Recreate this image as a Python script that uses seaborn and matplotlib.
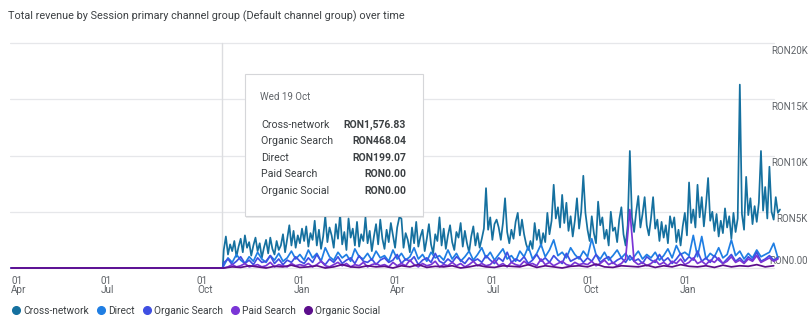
import matplotlib
matplotlib.use("Agg")
import matplotlib.pyplot as plt
import matplotlib.dates as mdates
from matplotlib.patches import FancyBboxPatch
from matplotlib.lines import Line2D
import seaborn as sns
import pandas as pd

# ---------------- data (values in thousands of RON) ----------------
channels = ["Cross-network", "Direct", "Organic Search", "Paid Search", "Organic Social"]
colors = ["#15709f", "#1f7ee3", "#3f4fe2", "#7a35d6", "#5c0e8c"]

range_start = "2022-04-01"
launch_date = "2022-10-19"
prelaunch_end = "2022-10-18"

# Cross-network, every 2 days from launch
cross_network_k = [
    1.6, 2.8, 1.2, 2.1, 1.5, 2.4, 1.0, 1.9, 2.6, 1.4, 2.9, 1.8, 2.3, 1.1, 2.0, 2.7, 1.5, 2.2, 0.9, 1.8,
    2.5, 1.3, 2.7, 1.7, 1.2, 2.4, 1.6, 2.0, 3.0, 1.4, 2.6, 3.8, 2.0, 3.3, 1.8, 2.9, 2.2, 3.5,
    2.4, 3.7, 1.9, 3.1, 2.5, 4.2, 2.0, 3.4, 1.7, 2.8, 4.6, 2.3, 3.6, 2.9, 1.8, 3.9, 2.6, 4.8, 2.1, 3.2,
    1.6, 4.4, 2.7, 3.5, 2.0, 4.1, 1.9, 3.0, 2.4, 4.5, 2.2, 3.3, 1.5, 2.8, 3.9, 2.1, 4.3, 2.6, 1.7, 3.4,
    2.3, 4.0, 2.9, 1.8, 3.6,
    4.5, 4.4, 1.8, 3.1, 2.5, 1.4, 3.6, 2.2, 4.1, 1.9, 2.8, 3.4, 1.5, 2.6, 3.9, 2.1, 1.3, 3.0, 2.4, 4.5,
    2.0, 3.5, 1.7, 2.9, 3.8, 2.3, 1.6, 3.2, 2.7, 4.0, 1.9, 3.3, 2.2, 1.4, 2.8, 3.7, 2.0, 3.1, 1.8, 2.6,
    3.5, 7.1, 3.4, 4.5, 2.5, 3.9,
    4.3, 3.6, 2.5, 4.0, 6.2, 3.2, 2.2, 3.4, 2.6, 4.1, 4.9, 2.9, 4.3, 3.0, 2.1, 1.6, 2.4, 1.7, 4.0, 2.5,
    3.4, 1.9, 3.1, 2.3, 4.9, 3.0, 4.2, 7.4, 4.4, 5.4, 3.6, 6.5, 4.0, 5.8, 3.3, 4.6, 2.8, 4.2, 6.2, 3.5,
    5.0, 8.2, 4.9, 3.4, 2.4, 4.6, 3.1, 2.2,
    5.9, 3.8, 4.5, 2.6, 3.4, 2.0, 5.0, 3.3, 3.6, 2.3, 4.3, 5.4, 3.0, 2.0, 3.8, 10.4, 4.5, 3.2, 5.0, 6.4,
    3.6, 4.8, 6.3, 3.8, 2.9, 4.4, 6.3, 3.5, 4.3, 2.4, 4.1, 2.7, 3.8, 2.2, 4.6, 3.6, 4.5, 2.3, 3.4, 2.0,
    3.7, 4.9, 2.9, 7.6, 4.0, 5.2, 3.6, 7.4, 4.5, 6.3, 3.7, 5.6, 8.0, 4.2, 5.0, 3.3, 4.8, 2.8, 4.2, 3.1,
    5.3, 3.6, 4.6, 2.6, 4.9, 3.2, 4.4, 16.3, 4.8, 3.4, 8.1, 4.7, 6.2, 3.9, 5.5, 4.1, 5.8, 10.4, 5.1, 7.2,
    4.4, 9.0, 5.0, 4.3, 6.3, 4.9, 5.2,
]

# Direct, every 4 days from launch
direct_k = [
    0.2, 0.9, 0.5, 1.2, 0.7, 0.4, 1.0, 0.6, 1.4, 0.8, 0.5, 1.1, 0.7, 1.3, 0.6, 0.9, 1.5, 0.8, 1.2,
    0.7, 1.6, 0.9, 1.3, 0.6, 1.8, 1.0, 0.7, 1.4, 0.9, 1.2, 0.6, 1.7, 1.0, 0.8, 1.3, 0.7, 1.5, 0.9,
    1.1, 0.6, 1.6, 0.8, 1.3, 0.7, 1.0, 1.8, 0.8, 1.2, 0.6, 1.4, 0.9, 1.1, 0.7, 1.6, 0.8, 1.3, 0.6, 1.0,
    1.5, 0.7, 1.2,
    1.8, 0.9, 1.4, 0.7, 1.2, 1.7, 0.8, 1.1, 0.6, 1.5, 1.0, 1.9, 0.8, 1.3, 2.1, 1.0, 1.6, 2.5, 1.1, 1.4,
    0.9, 1.8, 1.2, 0.8, 1.5,
    1.0, 2.6, 1.2, 0.8, 1.4, 0.7, 1.1, 1.6, 0.9, 1.3, 0.7, 1.0, 1.5, 0.8, 1.2, 0.9, 1.4, 0.7, 1.1, 1.7,
    0.9, 2.0, 1.2, 1.4, 1.1, 2.9, 1.0, 2.8, 0.8, 1.3, 1.0, 1.8, 0.9, 1.2, 2.5, 1.1, 1.5, 0.8, 1.3, 0.9,
    1.6, 1.0, 1.2, 1.4, 2.2, 0.9,
]

# Organic Search, every 4 days from launch
organic_search_k = [
    0.47, 0.8, 0.3, 0.6, 1.0, 0.4, 0.7, 0.3, 0.9, 0.5, 0.6, 1.1, 0.4, 0.8, 0.3, 0.7, 0.5, 1.0, 0.6,
    0.4, 0.9, 0.5, 1.2, 0.6, 0.3, 0.8, 0.5, 1.0, 0.4, 0.7, 0.9, 0.4, 1.1, 0.6, 0.5, 0.8, 0.3, 0.7,
    0.9, 0.5, 0.7, 1.2, 0.4, 0.8, 0.6, 1.0, 0.3, 0.7, 0.9, 0.5, 1.3, 0.6, 0.4, 0.8, 0.5, 1.0, 0.7, 0.4,
    0.9, 0.6, 0.8,
    0.5, 1.1, 0.7, 0.4, 0.9, 0.6, 1.4, 0.5, 0.8, 0.6, 1.0, 0.4, 0.7, 1.2, 0.6, 0.9, 0.5, 1.1, 0.7, 0.4,
    1.3, 0.6, 0.8, 1.0, 0.5,
    0.9, 0.6, 1.2, 0.5, 0.8, 1.0, 0.4, 0.7, 0.9, 0.5, 1.1, 0.6, 0.8, 0.4, 1.0, 0.7, 0.5, 1.2, 0.6, 0.9,
    0.4, 0.8, 1.3, 0.6, 1.0, 0.7, 1.5, 0.6, 0.9, 0.5, 1.1, 0.7, 0.4, 0.8, 1.2, 0.6, 0.9, 0.5, 1.0, 0.7,
    1.4, 0.6, 0.8, 1.1, 0.7, 0.9,
]

# Paid Search, every 4 days from launch
paid_search_k = [
    0.0, 0.1, 0.3, 0.1, 0.2, 0.4, 0.1, 0.2, 0.3, 0.1, 0.2, 0.5, 0.1, 0.3, 0.2, 0.1, 0.4, 0.2, 0.3,
    0.2, 0.4, 0.1, 0.3, 0.6, 0.2, 0.1, 0.3, 0.5, 0.2, 0.4, 0.1, 0.3, 0.2, 0.5, 0.1, 0.3, 0.4, 0.2,
    0.3, 0.1, 0.5, 0.2, 0.4, 0.2, 0.7, 0.3, 0.1, 0.4, 0.2, 0.3, 0.6, 0.1, 0.3, 0.2, 0.5, 0.2, 0.4, 0.1,
    0.3, 0.6, 0.2,
    0.4, 0.2, 0.3, 0.7, 0.2, 0.4, 0.1, 0.5, 0.3, 0.2, 0.6, 0.3, 0.4, 0.2, 0.8, 0.3, 0.5, 0.2, 0.4, 0.6,
    0.3, 0.2, 0.5, 0.3, 0.4,
    0.3, 0.6, 0.2, 0.4, 0.7, 0.3, 0.5, 0.2, 0.4, 0.8, 5.2, 0.6, 0.3, 0.5, 0.2, 0.4, 0.7, 0.3, 0.5, 0.2,
    0.6, 0.4, 0.8, 0.3, 0.5, 0.9, 0.4, 0.6, 0.3, 0.7, 0.5, 0.9, 0.4, 0.6, 1.0, 0.5, 0.7, 0.4, 0.8, 0.6,
    1.1, 0.5, 0.7, 0.9, 0.6, 0.8,
]

# Organic Social, every 8 days from launch
organic_social_k = [
    0.0, 0.1, 0.05, 0.2, 0.1, 0.0, 0.15, 0.1, 0.25, 0.05,
    0.1, 0.2, 0.0, 0.1, 0.3, 0.1, 0.05, 0.2, 0.1, 0.15,
    0.0, 0.2, 0.1, 0.3, 0.05, 0.15, 0.1, 0.2, 0.0, 0.1,
    0.25, 0.1, 0.05, 0.2, 0.15, 0.1, 0.3, 0.05, 0.2, 0.1,
    0.0, 0.15, 0.2, 0.1, 0.35, 0.1, 0.05, 0.2, 0.15, 0.1,
    0.25, 0.05, 0.2, 0.1, 0.3, 0.15, 0.1, 0.2, 0.05, 0.25,
    0.1, 0.2, 0.15, 0.3, 0.1, 0.2,
]

series_values = [cross_network_k, direct_k, organic_search_k, paid_search_k, organic_social_k]
series_step_days = [2, 4, 4, 4, 8]

x_tick_dates = ["2022-04-01", "2022-07-01", "2022-10-01", "2023-01-01", "2023-04-01",
                "2023-07-01", "2023-10-01", "2024-01-01"]
x_tick_labels = ["01\nApr", "01\nJul", "01\nOct", "01\nJan", "01\nApr", "01\nJul", "01\nOct", "01\nJan"]
y_ticks = [0, 5, 10, 15, 20]
y_tick_labels = ["RON0.00", "RON5K", "RON10K", "RON15K", "RON20K"]

title = "Total revenue by Session primary channel group (Default channel group) over time"
tooltip_date = "Wed 19 Oct"
tooltip_rows = ["Cross-network", "Organic Search", "Direct", "Paid Search", "Organic Social"]
tooltip_vals = ["RON1,576.83", "RON468.04", "RON199.07", "RON0.00", "RON0.00"]

# ---------------- build long table ----------------
frames = []
for name, vals, step in zip(channels, series_values, series_step_days):
    pre = pd.DataFrame({"date": pd.to_datetime([range_start, prelaunch_end]),
                        "value": [0.0, 0.0], "channel": name})
    post = pd.DataFrame({"date": pd.date_range(launch_date, periods=len(vals), freq=f"{step}D"),
                         "value": vals, "channel": name})
    frames += [pre, post]
df = pd.concat(frames, ignore_index=True)

# ---------------- figure ----------------
sns.set_theme(style="white")
plt.rcParams["font.family"] = ["Roboto", "DejaVu Sans"]

W, H = 812, 333
fig = plt.figure(figsize=(W / 100, H / 100), dpi=100)
fig.patch.set_facecolor("white")

ax_left, ax_right, ax_top, ax_bottom = 10, 790, 40.75, 270.25
ax = fig.add_axes([ax_left / W, 1 - ax_bottom / H, (ax_right - ax_left) / W, (ax_bottom - ax_top) / H])

px_per_day = 1.0575
d0 = mdates.date2num(pd.Timestamp(range_start))
x_lo = d0 - (11.2 - ax_left) / px_per_day
x_hi = x_lo + (ax_right - ax_left) / px_per_day

# gridlines
grid_frac = (774 - ax_left) / (ax_right - ax_left)
for v in y_ticks:
    ax.axhline(v, xmin=0, xmax=grid_frac, color="#e6e7ea", lw=0.9, zorder=0.2)

# crosshair
ax.axvline(mdates.date2num(pd.Timestamp(launch_date)) - 1.5, ymin=0.03, ymax=1 - 2 / 229.5,
           color="#dcdde0", lw=1.0, zorder=0.3)

sns.lineplot(data=df, x="date", y="value", hue="channel", hue_order=channels,
             palette=dict(zip(channels, colors)), linewidth=1.25, estimator=None,
             legend=False, ax=ax)

ax.set_xlim(x_lo, x_hi)
ax.set_ylim(-0.2, 20.2)
for s in ax.spines.values():
    s.set_visible(False)
ax.set_xlabel("")
ax.set_ylabel("")
ax.set_yticks([])

ax.set_xticks([mdates.date2num(pd.Timestamp(d)) for d in x_tick_dates])
ax.set_xticklabels(x_tick_labels, fontsize=7.2, color="#5f6368", linespacing=0.95)
ax.tick_params(axis="x", length=0, pad=4)
for i, lab in enumerate(ax.get_xticklabels()):
    lab.set_multialignment("left")
    if i == 0:
        lab.set_horizontalalignment("left")

# y labels on right, under the data
for v, lab in zip(y_ticks, y_tick_labels):
    if v == 0:
        ax.annotate(lab, xy=(808 / W, v), xycoords=("figure fraction", "data"),
                    xytext=(0, 1.5), textcoords="offset points", ha="right", va="bottom",
                    fontsize=7, color="#5f6368", zorder=0.5, annotation_clip=False)
    else:
        ax.annotate(lab, xy=(808 / W, v), xycoords=("figure fraction", "data"),
                    xytext=(0, -1.8), textcoords="offset points", ha="right", va="top",
                    fontsize=7, color="#5f6368", zorder=0.5, annotation_clip=False)

# title
fig.text(8 / W, 1 - 16 / H, title, fontsize=7.8, color="#3c4043", ha="left", va="center")

# legend
handles = [Line2D([0], [0], marker="o", linestyle="none", markersize=5.5,
                  markerfacecolor=c, markeredgecolor=c) for c in colors]
fig.legend(handles, channels, loc="center left", bbox_to_anchor=(12.4 / W, 1 - 311 / H),
           ncol=5, frameon=False, fontsize=7.3, handlelength=0.7, handletextpad=0.35,
           columnspacing=0.85, borderpad=0, borderaxespad=0, labelcolor="#3c4043")

# tooltip box
bx0, by0, bx1, by1 = 245, 74, 423, 216
shadow = FancyBboxPatch(((bx0 + 1) / W, 1 - (by1 + 2) / H), (bx1 - bx0) / W, (by1 - by0) / H,
                        boxstyle="square,pad=0", transform=fig.transFigure,
                        facecolor="#000000", alpha=0.08, edgecolor="none", zorder=5)
box = FancyBboxPatch((bx0 / W, 1 - by1 / H), (bx1 - bx0) / W, (by1 - by0) / H,
                     boxstyle="square,pad=0", transform=fig.transFigure,
                     facecolor="white", edgecolor="#d5d6d9", lw=0.8, zorder=6)
fig.patches.extend([shadow, box])
fig.text(260.5 / W, 1 - 96.5 / H, tooltip_date, fontsize=7.0, color="#5f6368",
         ha="left", va="center", zorder=7)
row_y = [125, 141.5, 158, 174, 190.5]
for y, name, val in zip(row_y, tooltip_rows, tooltip_vals):
    fig.text(261 / W, 1 - y / H, name, fontsize=7.7, color="#3c4043", ha="left", va="center", zorder=7)
    fig.text(406 / W, 1 - y / H, val, fontsize=7.5, color="#3c4043", ha="right", va="center",
             fontweight="bold", zorder=7)

fig.savefig("out.png", dpi=100, facecolor="white")
